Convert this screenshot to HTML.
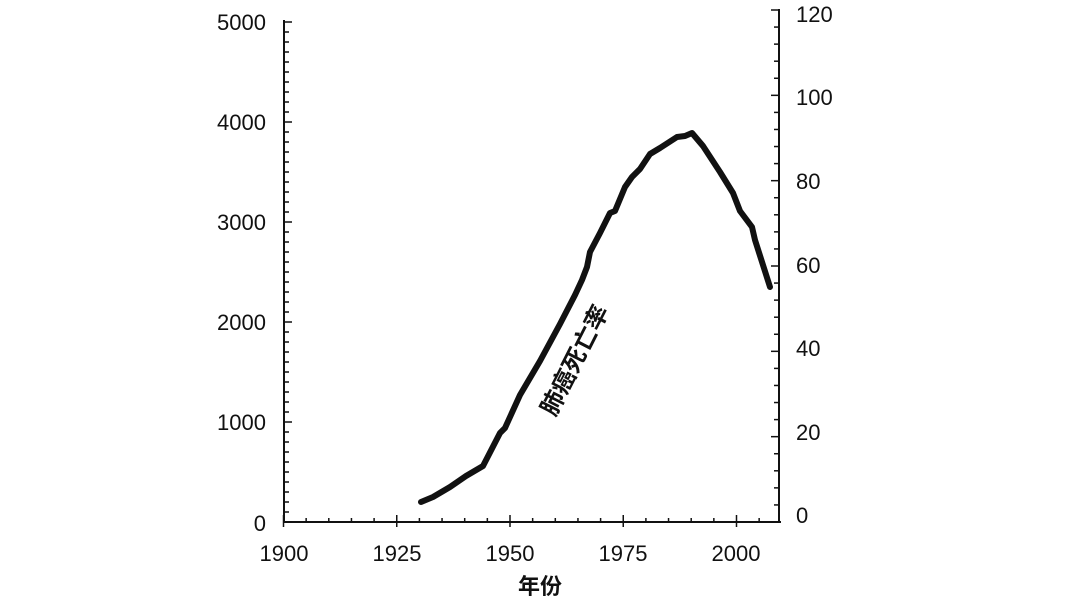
<!DOCTYPE html>
<html><head><meta charset="utf-8"><style>
body{margin:0;background:#fff;width:1080px;height:608px;overflow:hidden}
svg text{font-family:"Liberation Sans","Noto Sans CJK SC",sans-serif;fill:#111}
</style></head><body>
<svg width="1080" height="608" viewBox="0 0 1080 608" xmlns="http://www.w3.org/2000/svg">
<g stroke="#111" stroke-width="2" fill="none">
<line x1="284" y1="20" x2="284" y2="523"/>
<line x1="779" y1="9" x2="779" y2="523"/>
<line x1="284" y1="522" x2="781" y2="522"/>
</g>
<g stroke="#111" stroke-width="1.5" id="ticks"></g>
<g font-size="22" text-anchor="end">
<text x="266" y="30">5000</text><text x="266" y="130">4000</text><text x="266" y="230">3000</text>
<text x="266" y="330">2000</text><text x="266" y="430">1000</text><text x="266" y="531">0</text>
</g>
<g font-size="22" text-anchor="start">
<text x="796" y="22">120</text><text x="796" y="105">100</text><text x="796" y="189">80</text>
<text x="796" y="273">60</text><text x="796" y="356">40</text><text x="796" y="440">20</text><text x="796" y="523">0</text>
</g>
<g font-size="22" text-anchor="middle">
<text x="284" y="561">1900</text><text x="397" y="561">1925</text><text x="510" y="561">1950</text>
<text x="623" y="561">1975</text><text x="736" y="561">2000</text>
</g>
<text x="540" y="594" font-size="22" font-weight="bold" text-anchor="middle">年份</text>
<text x="0" y="0" font-size="24" font-weight="bold" text-anchor="middle" transform="translate(582,364) rotate(-63)">肺癌死亡率</text>
<polyline fill="none" stroke="#111" stroke-width="6" stroke-linejoin="round" stroke-linecap="round"
points="421,502 433,497 450,487 466,476 483,466 500,433 505,428 520,395 540,361 560,324 575,295 582,280 587,267 590,252 600,233 610,213 615,211 625,187 632,177 640,169 650,154 660,148 677,137 685,136 692,133 703,146 720,172 733,193 740,211 752,227 755,240 770,287"/>
</svg>
<script>
var g=document.getElementById('ticks'),s='';
for(var v=0;v<=5000;v+=100){var y=522-v/10,l=v%1000==0?8:5;s+='<line x1="284" y1="'+y+'" x2="'+(284+l)+'" y2="'+y+'"/>';}
for(var k=0;k<=120;k+=4){var l=k%20==0?8:5,y=522-k*(512/120);s+='<line x1="'+(779-l)+'" y1="'+y+'" x2="779" y2="'+y+'"/>';}
for(var yr=1900;yr<=2005;yr+=5){var x=283.5+(yr-1900)*4.53,big=yr%25==0;s+='<line x1="'+x+'" y1="'+(522-(big?7:4))+'" x2="'+x+'" y2="'+(522+(big?5:0))+'"/>';}
g.innerHTML=s;
</script>
</body></html>
